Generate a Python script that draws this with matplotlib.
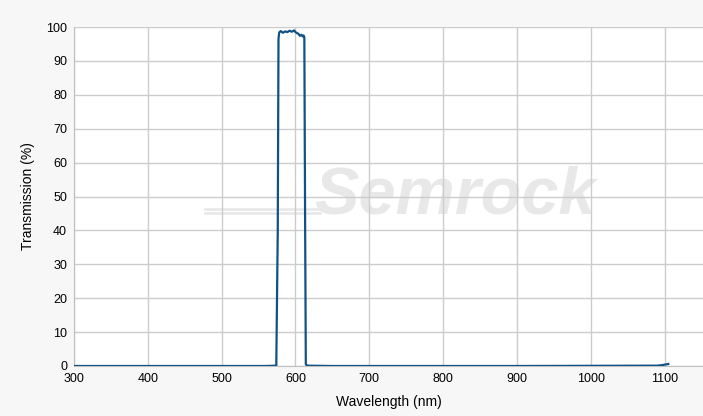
import numpy as np
import matplotlib.pyplot as plt
from matplotlib.lines import Line2D

plt.rcParams['font.family'] = ['Liberation Sans', 'DejaVu Sans']

# transmission spectrum
wl = [300, 560, 574, 576, 577, 578, 580, 583, 586, 589, 592, 595, 598, 600,
      602, 604, 606, 608, 610, 611, 612, 613, 614, 616, 650, 900, 1090, 1098, 1105]
tr = [0, 0, 0.1, 40, 96.5, 98.4, 98.8, 98.3, 98.7, 98.5, 98.9, 98.6, 99.0, 98.5,
      98.2, 98.0, 97.4, 97.7, 97.2, 97.5, 97.0, 45, 0.5, 0.1, 0, 0, 0.1, 0.3, 0.6]

xticks = [300, 400, 500, 600, 700, 800, 900, 1000, 1100]
yticks = [0, 10, 20, 30, 40, 50, 60, 70, 80, 90, 100]

fig = plt.figure(figsize=(7.03, 4.16), dpi=100)
fig.patch.set_facecolor('#f7f7f7')
ax = fig.add_axes([74/703, 1 - 366/416, (703 - 74)/703, (366 - 27)/416])
ax.set_facecolor('white')

# watermark, inside the axes so it sits under grid and curve
ax.text(455/703, 1 - 197/416, 'Semrock', fontsize=48, fontweight='bold',
        fontstyle='italic', color='#e8e8e8', ha='center', va='center',
        transform=fig.transFigure, zorder=0.2)
for yy in [209, 213]:
    ax.add_line(Line2D([205/703, 320/703], [1 - yy/416, 1 - yy/416],
                       color='#e6e6e6', lw=1.8, transform=fig.transFigure,
                       zorder=0.2))

ax.plot(wl, tr, color='#0f5286', lw=1.6, zorder=3)

ax.set_xlim(300, 1152)
ax.set_ylim(0, 100)
ax.set_xticks(xticks)
ax.set_yticks(yticks)
ax.grid(True, color='#cccccc', lw=1)
ax.set_axisbelow(True)
ax.tick_params(length=0, labelsize=9, pad=5)
for s in ['top', 'right']:
    ax.spines[s].set_visible(False)
for s in ['left', 'bottom']:
    ax.spines[s].set_color('#c0c0c0')
ax.set_xlabel('Wavelength (nm)', fontsize=10, labelpad=7)
ax.set_ylabel('Transmission (%)', fontsize=10, labelpad=8)

fig.savefig('out.png', dpi=100, facecolor=fig.get_facecolor())
